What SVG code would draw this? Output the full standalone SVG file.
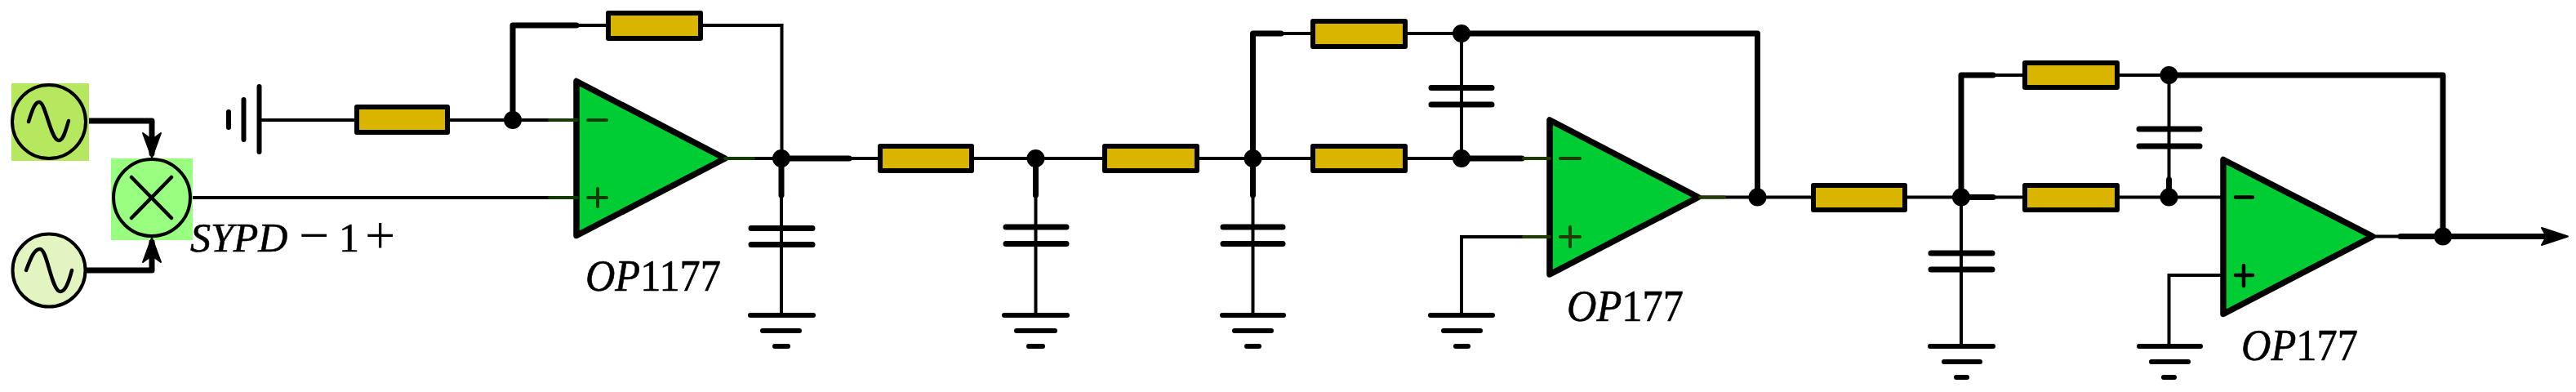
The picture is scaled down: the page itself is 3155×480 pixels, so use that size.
<svg xmlns="http://www.w3.org/2000/svg" width="3155" height="480" viewBox="0 0 3155 480">
<style>
.w{fill:none;stroke:#000;stroke-width:4}
.t{fill:none;stroke:#000;stroke-width:7;stroke-linejoin:round;stroke-linecap:round}
.r{fill:#dab500;stroke:#000;stroke-width:6;stroke-linejoin:round}
.p{fill:none;stroke:#000;stroke-width:7;stroke-linecap:round}
.g{fill:none;stroke:#000;stroke-width:6;stroke-linecap:round}
.d{fill:#000}
.a{fill:#000;stroke:#000;stroke-width:2;stroke-linejoin:round}
.o{fill:#00cc33;stroke:#000;stroke-width:7.500;stroke-linejoin:round}
.s{fill:none;stroke:#000;stroke-width:4.500;stroke-linecap:round;stroke-linejoin:round}
.n{fill:none;stroke:#113b00;stroke-width:4;stroke-linecap:round}
.m{fill:none;stroke:#223a04;stroke-width:4;stroke-linecap:round}
text{font-family:"Liberation Serif","Times New Roman",serif;font-size:54px;fill:#000;stroke:#000;stroke-width:.6}
.i{font-style:italic}
</style>
<g id="connectors">
<path class="t" d="M105 148H186V188"/>
<path class="t" d="M105 331H186V296"/>
<path class="w" d="M236 242H706"/>
<path class="w" d="M320 147H437"/>
<path class="w" d="M548 147H706"/>
<path class="t" d="M628 147V31H706"/>
<path class="w" d="M706 31H745"/>
<path class="w" d="M858 31H957.500V194"/>
<path class="w" d="M888 194H1075"/>
<path class="t" d="M957 194H1040"/>
<path class="t" d="M957 194V239"/>
<path class="w" d="M957 239V386"/>
<path class="w" d="M1193 194H1350"/>
<path class="t" d="M1268.500 194V239"/>
<path class="w" d="M1268.500 239V386"/>
<path class="w" d="M1469 194H1605"/>
<path class="t" d="M1534.500 194V239"/>
<path class="w" d="M1534.500 239V386"/>
<path class="t" d="M1534.500 194V41H1569"/>
<path class="w" d="M1569 41H1608"/>
<path class="w" d="M1721 41H1790"/>
<path class="w" d="M1790 41V194"/>
<path class="w" d="M1721 194H1790"/>
<path class="t" d="M1790 194H1864"/>
<path class="w" d="M1864 194H1899"/>
<path class="w" d="M1899 290H1790V386"/>
<path class="t" d="M1790 41H2152.500V241.500"/>
<path class="w" d="M2081 241.500H2218"/>
<path class="w" d="M2336 241.500H2477"/>
<path class="t" d="M2402 241.500H2441"/>
<path class="t" d="M2402 241.500V92H2441"/>
<path class="w" d="M2441 92H2480"/>
<path class="w" d="M2593 92H2656.500"/>
<path class="t" d="M2656.500 92H2992V289.500"/>
<path class="w" d="M2402 241.500V424"/>
<path class="w" d="M2596 241.500H2723"/>
<path class="w" d="M2656.500 92V241.500"/>
<path class="t" d="M2656.500 220V241.500"/>
<path class="w" d="M2723 337H2656.500V424"/>
<path class="w" d="M2906 289.500H2940"/>
<path class="t" d="M2940 289.500H3120"/>
</g>
<g id="source1"><rect x="14" y="102" width="95" height="95" fill="#b5e85f"/><circle cx="60" cy="149" r="45" fill="#b5e85f" stroke="#000" stroke-width="4"/><path class="s" d="M35 149C40 133 43 125 48 125C56 125 62 172 72 172C77 172 80 162 84 148"/></g>
<g id="source2"><circle cx="60" cy="331" r="44.500" fill="#e2f5c0" stroke="#000" stroke-width="4"/><path class="s" d="M32 331C38 315 42 305 49 305C58 305 63 357 74 357C80 357 84 346 88 331"/></g>
<g id="mixer"><rect x="136" y="194" width="100" height="100" fill="#99ff80"/><circle cx="186" cy="242" r="47" fill="#99ff80" stroke="#000" stroke-width="4"/><path class="s" d="M161 217L210 267M210 217L161 267"/></g>
<g id="arrow-top"><path class="a" d="M186 193L175 163L186 171L197 163Z"/></g>
<g id="arrow-bottom"><path class="a" d="M186 291L175 321L186 313L197 321Z"/></g>
<g id="ground-left"><path class="g" stroke-width="5" d="M317.500 106V186M298.500 122V171M280 137V156"/></g>
<g id="R1"><rect class="r" x="437" y="131" width="111" height="31"/></g>
<g id="R2"><rect class="r" x="745" y="16" width="113" height="31"/></g>
<g id="R3"><rect class="r" x="1078" y="179" width="112" height="30"/></g>
<g id="R4"><rect class="r" x="1353" y="179" width="113" height="30"/></g>
<g id="R5"><rect class="r" x="1608" y="26" width="113" height="31"/></g>
<g id="R6"><rect class="r" x="1608" y="179" width="113" height="30"/></g>
<g id="R7"><rect class="r" x="2221" y="227" width="112" height="30"/></g>
<g id="R8"><rect class="r" x="2480" y="227" width="113" height="30"/></g>
<g id="R9"><rect class="r" x="2480" y="77" width="113" height="30"/></g>
<g id="U1"><path class="o" d="M706 99.500V288.500L888 194Z"/><path class="n" d="M673 147H707M673 242H707M888 194H923M720 147H743M732 231V253M720 242H743"/></g>
<g id="U2"><path class="o" d="M1898 147V336L2080 241.500Z"/><path class="m" d="M1866 194H1898M1866 290H1898M2082 241.500H2112M1911 194H1935M1923 278V302M1911 290H1935"/></g>
<g id="U3"><path class="o" d="M2723 195.500V384.500L2906 289.500Z"/><path class="s" d="M2738 241.500H2759M2748 325V350M2738 337H2759"/></g>
<g id="C1"><path class="p" d="M920 279.500H995M920 299.500H995"/></g>
<g id="C2"><path class="p" d="M1232 278H1306M1232 298.500H1306"/></g>
<g id="C3"><path class="p" d="M1498 278H1571M1498 298.500H1571"/></g>
<g id="C4"><path class="p" d="M1753 107.500H1827M1753 128H1827"/></g>
<g id="C5"><path class="p" d="M2365 310H2440M2365 330H2440"/></g>
<g id="C6"><path class="p" d="M2620 158H2694M2620 179H2694"/></g>
<g id="G1"><path class="g" d="M919 386H996M934 405H979M949 424H965"/></g>
<g id="G2"><path class="g" d="M1230 386H1307M1245 405H1292M1260 424H1277"/></g>
<g id="G3"><path class="g" d="M1497 386H1572M1512 405H1557M1527 424H1542"/></g>
<g id="G4"><path class="g" d="M1752 386H1828M1768 405H1813M1783 424H1798"/></g>
<g id="G5"><path class="g" d="M2364 424H2441M2381 443H2425M2396 462H2409"/></g>
<g id="G6"><path class="g" d="M2620 424H2695M2635 443H2680M2650 462H2663"/></g>
<g id="junctions">
<circle class="d" cx="628" cy="147" r="11"/><circle class="d" cx="957" cy="194" r="11"/><circle class="d" cx="1268.500" cy="194" r="11"/><circle class="d" cx="1534.500" cy="194" r="11"/><circle class="d" cx="1790" cy="41" r="11"/><circle class="d" cx="1790" cy="194" r="11"/><circle class="d" cx="2152.500" cy="241.500" r="11"/><circle class="d" cx="2402" cy="241.500" r="11"/><circle class="d" cx="2656.500" cy="92" r="11"/><circle class="d" cx="2656.500" cy="241.500" r="11"/><circle class="d" cx="2992" cy="289.500" r="11"/>
</g>
<g id="output-arrow"><path class="a" d="M3145 289.500L3113 279L3119 289.500L3113 300Z"/></g>
<g id="labels">
<text y="308" style="font-size:50px"><tspan class="i" x="233">SYPD</tspan><tspan x="366" y="310" style="font-size:66px;stroke-width:0">−</tspan><tspan x="415" y="308">1</tspan><tspan x="447" y="310" style="font-size:66px;stroke-width:0">+</tspan></text>
<text x="717" y="355.500" textLength="166" lengthAdjust="spacingAndGlyphs"><tspan class="i">OP</tspan><tspan>1177</tspan></text>
<text x="1919" y="393" textLength="143" lengthAdjust="spacingAndGlyphs"><tspan class="i">OP</tspan><tspan>177</tspan></text>
<text x="2745" y="441" textLength="143" lengthAdjust="spacingAndGlyphs"><tspan class="i">OP</tspan><tspan>177</tspan></text>
</g>
</svg>
